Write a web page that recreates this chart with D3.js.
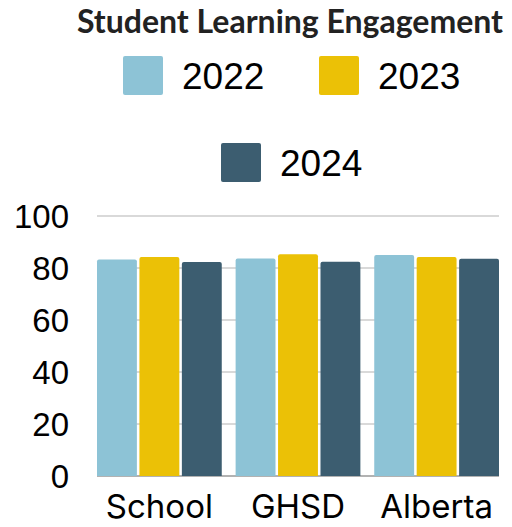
<!DOCTYPE html>
<html>
<head>
<meta charset="utf-8">
<script src="https://cdn.jsdelivr.net/npm/d3@7"></script>
<style>
  body { margin: 0; background: #fff; }
</style>
</head>
<body>
<div id="chart"></div>
<script>
// Data
const categories = ["School", "GHSD", "Alberta"];
const years = ["2022", "2023", "2024"];
const values2022 = [83.3, 83.7, 85.0];
const values2023 = [84.2, 85.3, 84.2];
const values2024 = [82.3, 82.4, 83.6];
const yTicks = [0, 20, 40, 60, 80, 100];

const seriesValues = [values2022, values2023, values2024];
const colors = ["#8dc3d6", "#ebc106", "#3c5d70"];

const width = 512;
const height = 527;
const margin = { top: 216, right: 13, bottom: 51, left: 97 };

const svg = d3.select("#chart")
  .append("svg")
  .attr("width", width)
  .attr("height", height);

// Title
svg.append("text")
  .attr("x", 290)
  .attr("y", 33)
  .attr("text-anchor", "middle")
  .attr("font-family", "Lato")
  .attr("font-weight", "bold")
  .attr("font-size", "32px")
  .attr("fill", "#222")
  .text("Student Learning Engagement");

// Legend
const legendPos = [
  { x: 123, y: 56 },
  { x: 319, y: 56 },
  { x: 221, y: 143 }
];
const legend = svg.selectAll(".legend")
  .data(years)
  .enter()
  .append("g")
  .attr("class", "legend")
  .attr("transform", (d, i) => `translate(${legendPos[i].x},${legendPos[i].y})`);

legend.append("rect")
  .attr("width", 40)
  .attr("height", 39)
  .attr("rx", 2)
  .attr("fill", (d, i) => colors[i]);

legend.append("text")
  .attr("x", 59)
  .attr("y", 33)
  .attr("font-family", "Liberation Sans")
  .attr("font-size", "37px")
  .attr("fill", "#000")
  .text((d) => d);

// Scales
const x0 = d3.scaleBand()
  .domain(categories)
  .range([margin.left, width - margin.right])
  .paddingInner(0.1)
  .paddingOuter(0);

const x1 = d3.scaleBand()
  .domain(years)
  .range([0, x0.bandwidth()])
  .paddingInner(0.06);

const y = d3.scaleLinear()
  .domain([0, 100])
  .range([height - margin.bottom, margin.top]);

// Gridlines
svg.append("g")
  .selectAll("line")
  .data(yTicks)
  .enter()
  .append("line")
  .attr("x1", margin.left)
  .attr("x2", width - margin.right)
  .attr("y1", (d) => y(d))
  .attr("y2", (d) => y(d))
  .attr("stroke", (d) => d === 0 ? "#999" : "#cccccc")
  .attr("stroke-width", 1.5);

// Y axis labels
const yAxis = svg.append("g")
  .attr("transform", `translate(69,0)`)
  .call(d3.axisLeft(y).tickValues(yTicks).tickSize(0).tickPadding(0));
yAxis.select(".domain").remove();
yAxis.selectAll("text")
  .attr("font-family", "Liberation Sans")
  .attr("font-size", "33px")
  .attr("fill", "#000")
  .attr("dy", "0.35em");

// Bars
const groups = svg.selectAll(".group")
  .data(categories)
  .enter()
  .append("g")
  .attr("class", "group")
  .attr("transform", (d) => `translate(${x0(d)},0)`);

groups.selectAll("path")
  .data((d, ci) => years.map((yr, si) => ({ year: yr, value: seriesValues[si][ci], i: si })))
  .enter()
  .append("path")
  .attr("fill", (d) => colors[d.i])
  .attr("d", (d) => {
    const bx = x1(d.year), bw = x1.bandwidth();
    const top = y(d.value), bottom = y(0), r = 2;
    return `M${bx},${bottom}V${top + r}Q${bx},${top} ${bx + r},${top}H${bx + bw - r}Q${bx + bw},${top} ${bx + bw},${top + r}V${bottom}Z`;
  });

// X axis labels
const xAxis = svg.append("g")
  .attr("transform", `translate(0,${height - margin.bottom})`)
  .call(d3.axisBottom(x0).tickSize(0).tickPadding(0));
xAxis.select(".domain").remove();
xAxis.selectAll("text")
  .attr("font-family", "Inter")
  .attr("font-size", "33px")
  .attr("fill", "#000")
  .attr("dy", "0")
  .attr("y", 42);
</script>
</body>
</html>
